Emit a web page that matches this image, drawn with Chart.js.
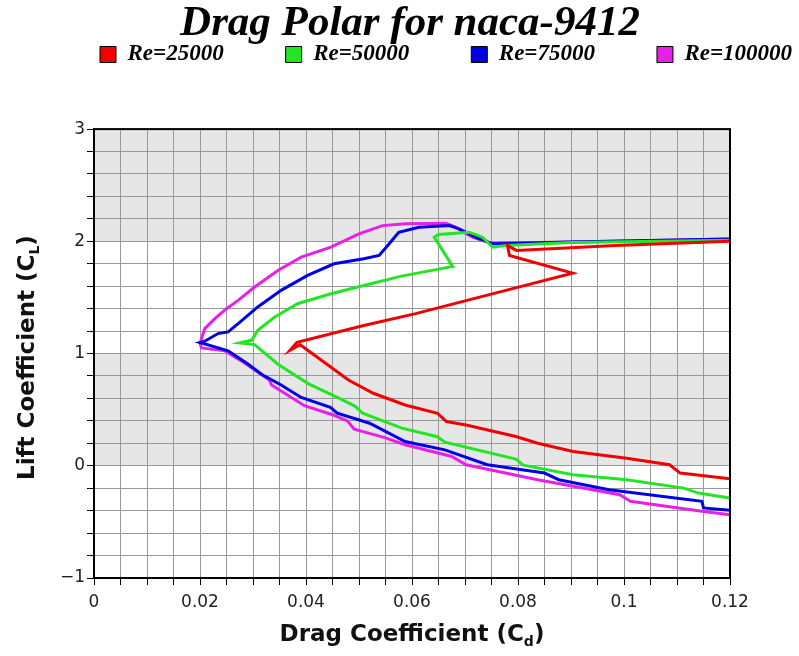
<!DOCTYPE html>
<html>
<head>
<meta charset="utf-8">
<title>Drag Polar for naca-9412</title>
<script src="https://cdn.jsdelivr.net/npm/chart.js@4.4.0/dist/chart.umd.min.js"></script>
<style>
  html, body { margin: 0; padding: 0; background: #fff; }
  #wrap { width: 799px; height: 656px; }
</style>
</head>
<body>
<div id="wrap"><canvas id="polar"></canvas></div>
<script>
// series labels and colours
const seriesNames = ['Re=25000', 'Re=50000', 'Re=75000', 'Re=100000'];
const seriesColors = ['#f00000', '#22e622', '#0000e6', '#e620e6'];

// drag coefficient (Cd) / lift coefficient (Cl)
const cd25 = [0.1200, 0.1106, 0.1086, 0.1005, 0.0904, 0.0837, 0.0796, 0.0702, 0.0665, 0.0648,
              0.0587, 0.0527, 0.0480, 0.0435, 0.0389, 0.0370, 0.0383, 0.0509, 0.0607, 0.0777,
              0.0903, 0.0784, 0.0780, 0.0797, 0.0984, 0.1200];
const cl25 = [-0.116, -0.065, 0.009, 0.068, 0.127, 0.201, 0.261, 0.364, 0.394, 0.468,
              0.542, 0.646, 0.764, 0.920, 1.078, 1.030, 1.100, 1.250, 1.356, 1.563,
              1.717, 1.874, 1.963, 1.919, 1.963, 2.000];

const cd50 = [0.1200, 0.1140, 0.1113, 0.1005, 0.0904, 0.0810, 0.0796, 0.0662, 0.0648, 0.0581,
              0.0507, 0.0493, 0.0459, 0.0405, 0.0347, 0.0303, 0.0275, 0.0298, 0.0309, 0.0341,
              0.0384, 0.0447, 0.0509, 0.0580, 0.0670, 0.0677, 0.0642, 0.0650, 0.0708, 0.0733,
              0.0752, 0.0777, 0.0900, 0.1200];
const cl50 = [-0.287, -0.243, -0.199, -0.124, -0.080, 0.005, 0.060, 0.210, 0.259, 0.335,
              0.468, 0.530, 0.609, 0.730, 0.905, 1.080, 1.095, 1.120, 1.207, 1.326,
              1.444, 1.533, 1.607, 1.690, 1.770, 1.775, 2.037, 2.060, 2.081, 2.037,
              1.948, 1.963, 1.990, 2.010];

const cd75 = [0.1200, 0.1150, 0.1147, 0.0972, 0.0877, 0.0850, 0.0742, 0.0662, 0.0587, 0.0520,
              0.0459, 0.0446, 0.0391, 0.0353, 0.0316, 0.0291, 0.0253, 0.0200, 0.0209, 0.0234,
              0.0253, 0.0272, 0.0309, 0.0353, 0.0403, 0.0453, 0.0509, 0.0538, 0.0557, 0.0575,
              0.0613, 0.0670, 0.0689, 0.0720, 0.0752, 0.0770, 0.0900, 0.1200];
const cl75 = [-0.397, -0.376, -0.317, -0.213, -0.124, -0.065, 0.009, 0.142, 0.216, 0.379,
              0.468, 0.520, 0.609, 0.720, 0.816, 0.905, 1.024, 1.098, 1.110, 1.178,
              1.193, 1.267, 1.415, 1.563, 1.696, 1.800, 1.845, 1.874, 1.978, 2.080,
              2.126, 2.140, 2.111, 2.037, 1.978, 1.978, 1.995, 2.020];

const cd100 = [0.1200, 0.1147, 0.1012, 0.0992, 0.0837, 0.0702, 0.0675, 0.0587, 0.0547, 0.0491,
               0.0478, 0.0453, 0.0397, 0.0335, 0.0331, 0.0278, 0.0247, 0.0203, 0.0200, 0.0209,
               0.0228, 0.0250, 0.0272, 0.0303, 0.0347, 0.0391, 0.0447, 0.0500, 0.0544, 0.0588,
               0.0664, 0.0682, 0.0714, 0.0752, 0.0770, 0.0900, 0.1200];
const cl100 = [-0.436, -0.406, -0.317, -0.258, -0.124, 0.009, 0.083, 0.187, 0.253, 0.327,
               0.400, 0.450, 0.535, 0.720, 0.764, 0.935, 1.024, 1.050, 1.089, 1.222,
               1.311, 1.400, 1.474, 1.593, 1.740, 1.859, 1.948, 2.067, 2.140, 2.156,
               2.160, 2.126, 2.037, 1.978, 1.985, 1.995, 2.020];

// axis ranges, tick steps and labelled ticks
const xRange = [0, 0.12];
const yRange = [-1, 3];
const xStep = 0.005;
const yStep = 0.2;
const xLabelEvery = 0.02;
const yLabelEvery = 1;
// lift ranges with the grey background
const shadedBands = [[2, 3], [0, 1]];

const seriesCd = [cd25, cd50, cd75, cd100];
const seriesCl = [cl25, cl50, cl75, cl100];

const tickFont = { family: '"DejaVu Sans", sans-serif', size: 17 };
const legendPad = 62;

const bandsPlugin = {
    id: 'bands',
    beforeDraw(chart) {
        const { ctx, chartArea: a, scales: { y } } = chart;
        ctx.save();
        ctx.fillStyle = '#e6e6e6';
        shadedBands.forEach(([lo, hi]) => {
            const top = y.getPixelForValue(hi);
            const bottom = y.getPixelForValue(lo);
            ctx.fillRect(a.left, top, a.right - a.left, bottom - top);
        });
        ctx.restore();
    }
};

// axis title with a subscript, centred on x
function subscriptTitle(ctx, base, sub, tail, x, y, size) {
    const big = 'bold ' + size + 'px "DejaVu Sans", sans-serif';
    const small = 'bold ' + Math.round(size * 0.62) + 'px "DejaVu Sans", sans-serif';
    ctx.font = big;
    const w1 = ctx.measureText(base).width;
    const w3 = ctx.measureText(tail).width;
    ctx.font = small;
    const w2 = ctx.measureText(sub).width;
    let cx = x - (w1 + w2 + w3) / 2;
    ctx.textAlign = 'left';
    ctx.textBaseline = 'alphabetic';
    ctx.font = big;
    ctx.fillText(base, cx, y);
    cx += w1;
    ctx.font = small;
    ctx.fillText(sub, cx, y + size * 0.22);
    cx += w2;
    ctx.font = big;
    ctx.fillText(tail, cx, y);
}

const frameAndTitles = {
    id: 'frameAndTitles',
    afterDraw(chart) {
        const { ctx, chartArea: a } = chart;
        ctx.save();
        ctx.strokeStyle = '#000';
        ctx.lineWidth = 2;
        ctx.strokeRect(a.left, a.top, a.right - a.left, a.bottom - a.top);
        ctx.fillStyle = '#111';
        subscriptTitle(ctx, 'Drag Coefficient (C', 'd', ')', (a.left + a.right) / 2, 641, 23);
        ctx.translate(26, (a.top + a.bottom) / 2 + 4);
        ctx.rotate(-Math.PI / 2);
        subscriptTitle(ctx, 'Lift Coefficient (C', 'L', ')', 0, 8, 23);
        ctx.restore();
    }
};

// legend sits in one row right under the title; keep the gap to the plot
const legendPlacement = {
    id: 'legendPlacement',
    beforeInit(chart) {
        const fit = chart.legend.fit;
        chart.legend.fit = function () {
            fit.call(this);
            this.height = 79;
        };
    },
    afterLayout(chart) {
        const lg = chart.legend;
        lg.left = 100 - legendPad;
        lg.right = lg.left + 1100;
        lg.top = 43 - legendPad;
        lg.bottom = lg.top + legendPad + 40;
        const tb = chart.titleBlock;
        tb.left += 45;
        tb.right += 45;
    }
};

const ctx = document.getElementById('polar').getContext('2d');

new Chart(ctx, {
    type: 'scatter',
    data: {
        datasets: seriesNames.map((name, i) => ({
            label: name,
            data: seriesCd[i].map((cd, j) => ({ x: cd, y: seriesCl[i][j] })),
            showLine: true,
            borderColor: seriesColors[i],
            backgroundColor: seriesColors[i],
            borderWidth: 3,
            pointRadius: 0,
            tension: 0
        }))
    },
    options: {
        responsive: true,
        maintainAspectRatio: false,
        animation: false,
        layout: { padding: { left: 0, right: 69, top: 0, bottom: 0 } },
        plugins: {
            title: {
                display: true,
                text: 'Drag Polar for naca-9412',
                color: '#000',
                font: { family: '"Liberation Serif", serif', size: 43, style: 'italic', weight: 'bold' },
                padding: { top: -1.5, bottom: 0 }
            },
            legend: {
                display: true,
                align: 'start',
                labels: {
                    color: '#000',
                    font: { family: '"Liberation Serif", serif', size: 23, style: 'italic', weight: 'bold' },
                    boxWidth: 16,
                    boxHeight: 16,
                    padding: legendPad,
                    generateLabels(chart) {
                        return Chart.defaults.plugins.legend.labels.generateLabels(chart)
                            .map(item => Object.assign(item, { strokeStyle: '#000', lineWidth: 1 }));
                    }
                }
            },
            tooltip: { enabled: false }
        },
        scales: {
            x: {
                type: 'linear',
                min: xRange[0],
                max: xRange[1],
                afterFit(scale) { scale.height = 78; },
                ticks: {
                    stepSize: xStep,
                    autoSkip: false,
                    maxRotation: 0,
                    color: '#222',
                    font: tickFont,
                    padding: 7,
                    callback(v) {
                        const k = Math.round(v / xStep);
                        const every = Math.round(xLabelEvery / xStep);
                        return k % every === 0 ? String(+(v.toFixed(3))) : '';
                    }
                },
                grid: { color: '#999', lineWidth: 1, tickLength: 7, tickColor: '#000' },
                border: { color: '#000', width: 2 }
            },
            y: {
                type: 'linear',
                min: yRange[0],
                max: yRange[1],
                afterFit(scale) { scale.width = 94; },
                ticks: {
                    stepSize: yStep,
                    autoSkip: false,
                    color: '#222',
                    font: tickFont,
                    padding: 2,
                    callback(v) {
                        const k = Math.round(v / yStep);
                        const every = Math.round(yLabelEvery / yStep);
                        if (k % every !== 0) return '';
                        const n = Math.round(v);
                        return n < 0 ? '\u2212' + Math.abs(n) : String(n);
                    }
                },
                grid: { color: '#999', lineWidth: 1, tickLength: 7, tickColor: '#000' },
                border: { color: '#000', width: 2 }
            }
        }
    },
    plugins: [bandsPlugin, frameAndTitles, legendPlacement]
});
</script>
</body>
</html>
